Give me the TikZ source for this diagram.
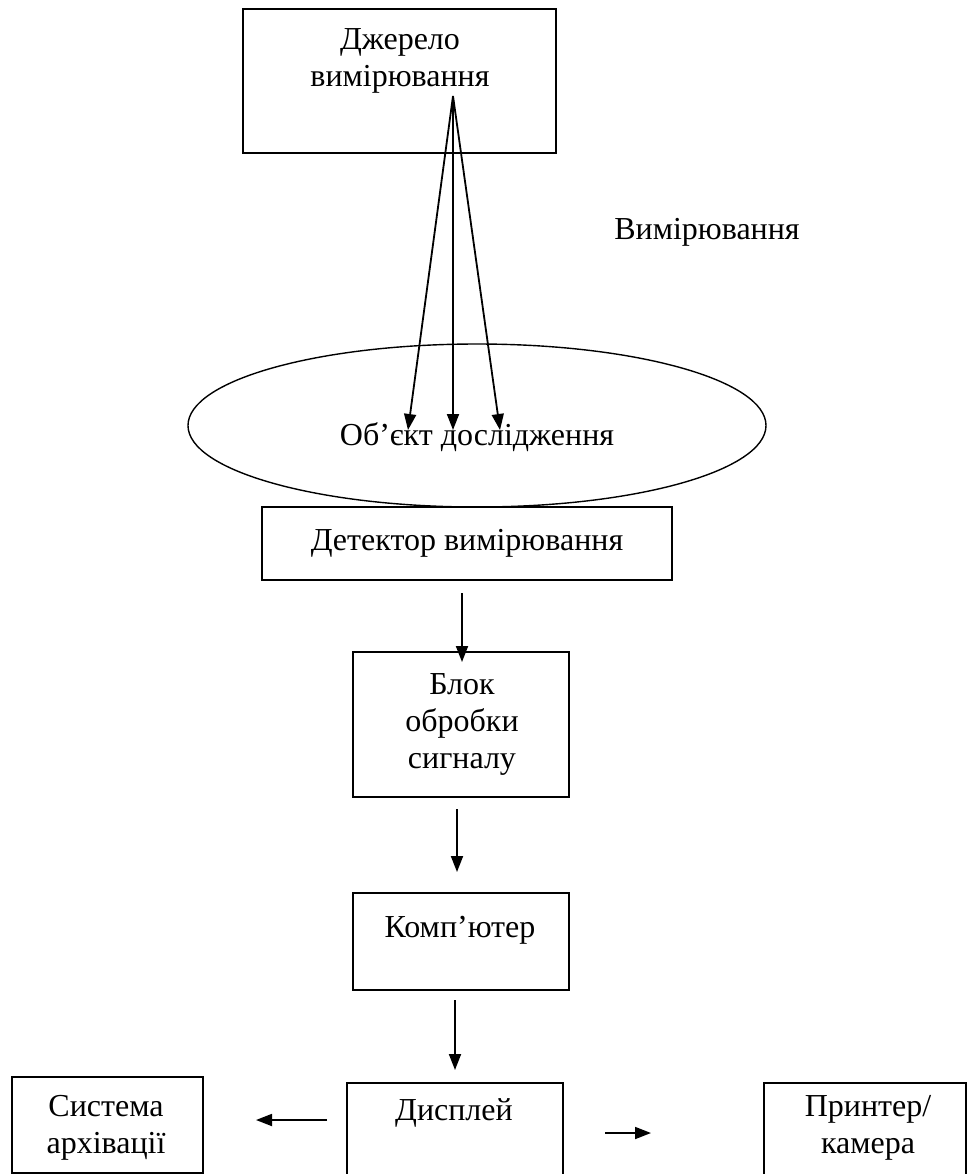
\documentclass[tikz,border=0pt]{standalone}
\usepackage{fontspec}
\setmainfont{Liberation Serif}
\usetikzlibrary{shapes,arrows.meta,positioning}

\begin{document}
\begin{tikzpicture}[x=0.5pt, y=-0.5pt]
			\tikzstyle{Block}	= [rectangle, draw, line width=0.9pt, inner sep=0pt]
			\tikzstyle{Oval}	= [ellipse, draw, line width=0.7pt, inner sep=0pt]
			\tikzstyle{Label}	= [align=center, inner sep=0pt, font=\fontsize{16}{18.5}\selectfont]
			\tikzstyle{Flow}	= [line width=0.9pt, -{Triangle[length=8pt, width=6pt]}]

			\useasboundingbox (0, 0) rectangle (968, 1174);

			% boxes
			\node (src) at (399.5, 81) [Block, minimum width=156.5pt, minimum height=72pt] {};
			\node (obj) at (477, 425.5) [Oval, minimum width=289pt, minimum height=81.5pt] {};
			\node (det) at (467, 543.5) [Block, minimum width=205pt, minimum height=36.5pt] {};
			\node (sig) at (461, 724.5) [Block, minimum width=108pt, minimum height=72.5pt] {};
			\node (comp) at (461, 941.5) [Block, minimum width=108pt, minimum height=48.5pt] {};
			\node (disp) at (455, 1136.5) [Block, minimum width=108pt, minimum height=53.5pt] {};
			\node (arch) at (107.5, 1125) [Block, minimum width=95.5pt, minimum height=48pt] {};
			\node (prn) at (865, 1133) [Block, minimum width=101pt, minimum height=50pt] {};

			% texts
			\node (srcT) at (400, 61) [Label] {Джерело\\вимірювання};
			\node (measT) at (707, 232) [Label] {Вимірювання};
			\node (objT) at (477, 437) [Label] {Об’єкт дослідження};
			\node (detT) at (det) [Label] {Детектор вимірювання};
			\node (sigT) at (462, 724) [Label] {Блок\\обробки\\сигналу};
			\node (compT) at (460, 930) [Label] {Комп’ютер};
			\node (dispT) at (454, 1113) [Label] {Дисплей};
			\node (archT) at (106, 1128) [Label] {Система\\архівації};
			\node (prnT) at (868, 1128) [Label] {Принтер/\\камера};

			% free ends of the connectors
			\coordinate (s0) at (453, 96);
			\coordinate (o1) at (408, 430);
			\coordinate (o2) at (453, 430);
			\coordinate (o3) at (500, 430);
			\coordinate (d0) at (462, 593);
			\coordinate (d1) at (462, 662);
			\coordinate (g0) at (457, 809);
			\coordinate (g1) at (457, 872);
			\coordinate (c0) at (455, 1000);
			\coordinate (c1) at (455, 1070);
			\coordinate (l0) at (327, 1120);
			\coordinate (l1) at (256, 1120);
			\coordinate (r0) at (605, 1133);
			\coordinate (r1) at (651, 1133);

			\draw [Flow] (s0) to (o1);
			\draw [Flow] (s0) to (o2);
			\draw [Flow] (s0) to (o3);
			\draw [Flow] (d0) to (d1);
			\draw [Flow] (g0) to (g1);
			\draw [Flow] (c0) to (c1);
			\draw [Flow] (l0) to (l1);
			\draw [Flow] (r0) to (r1);
		\end{tikzpicture}
\end{document}
